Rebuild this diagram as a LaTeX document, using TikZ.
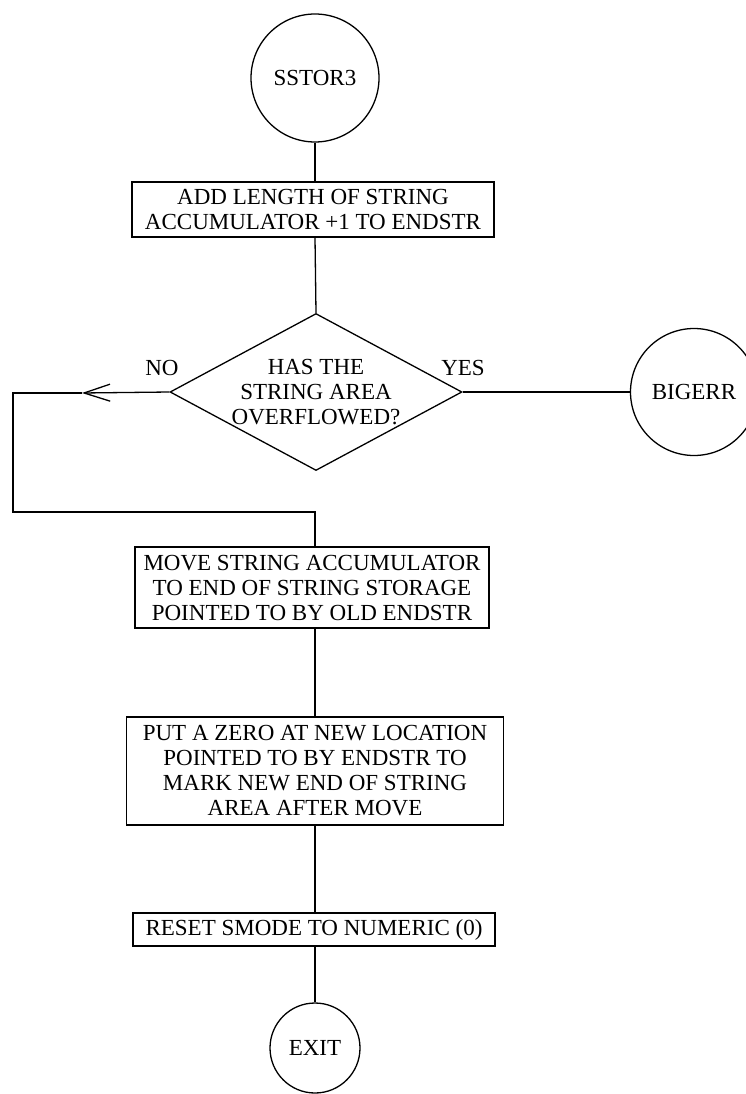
\documentclass[tikz,border=0pt]{standalone}
\usepackage{fontspec}
\setmainfont{Liberation Serif}
\usetikzlibrary{shapes.geometric,arrows.meta}
\begin{document}
\begin{tikzpicture}[x=1pt,y=-1pt,
  every node/.style={font=\fontsize{23}{25}\selectfont},
  line/.style={line width=1.3pt, line join=miter},
  procbox/.style={draw, line width=1.3pt, rectangle, align=center, inner sep=0pt},
  term/.style={draw, line width=1.3pt, circle, inner sep=0pt},
  decision/.style={draw, line width=1.3pt, diamond, inner sep=0pt, aspect=1.86}]
\useasboundingbox (0,0) rectangle (746,1094);
\fill[white] (0,0) rectangle (746,1094);
\clip (0,0) rectangle (746,1094);

% terminals
\node[term, minimum size=128pt] (start) at (315,78) {SSTOR3};
\node[term, minimum size=127pt] (bigerr) at (694,392) {BIGERR};
\node[term, minimum size=90pt] (exit) at (315,1048) {EXIT};

% process boxes
\node[procbox, minimum width=362pt, minimum height=55pt] (box1) at (313,209.5)
  {ADD LENGTH OF STRING\\ACCUMULATOR +1 TO ENDSTR};
\node[procbox, minimum width=354pt, minimum height=81pt] (box2) at (312,587.5)
  {MOVE STRING ACCUMULATOR\\TO END OF STRING STORAGE\\POINTED TO BY OLD ENDSTR};
\node[procbox, minimum width=377pt, minimum height=108pt] (box3) at (315,771)
  {PUT A ZERO AT NEW LOCATION\\POINTED TO BY ENDSTR TO\\MARK NEW END OF STRING\\AREA AFTER MOVE};
\node[procbox, minimum width=362pt, minimum height=33pt] (box4) at (314,929.5)
  {RESET SMODE TO NUMERIC (0)};

% decision
\node[decision, minimum width=292pt, minimum height=157pt] (dec) at (316,392) {};
\node[align=center] (dectext) at (dec.center) {HAS THE\\STRING AREA\\OVERFLOWED?};
\node (no) at (162,368) {NO};
\node (yes) at (463,368) {YES};

% loop-back route
\coordinate (arrowpt) at (82,393);
\coordinate (loopA) at (13,393);
\coordinate (loopB) at (13,512);
\coordinate (loopC) at (315,512);

% connectors
\draw[line] (start) -- (start |- box1.north);
\draw[line] (box1.south -| start) -- (dec.north);
\draw[line] (dec.east) -- (bigerr);
\draw[line, -{Straight Barb[length=26pt,width=17pt]}] (dec.west) -- (arrowpt);
\draw[line] (arrowpt) -- (loopA) -- (loopB) -- (loopC) -- (loopC |- box2.north);
\draw[line] (loopC |- box2.south) -- (loopC |- box3.north);
\draw[line] (loopC |- box3.south) -- (loopC |- box4.north);
\draw[line] (loopC |- box4.south) -- (exit);
\end{tikzpicture}
\end{document}
